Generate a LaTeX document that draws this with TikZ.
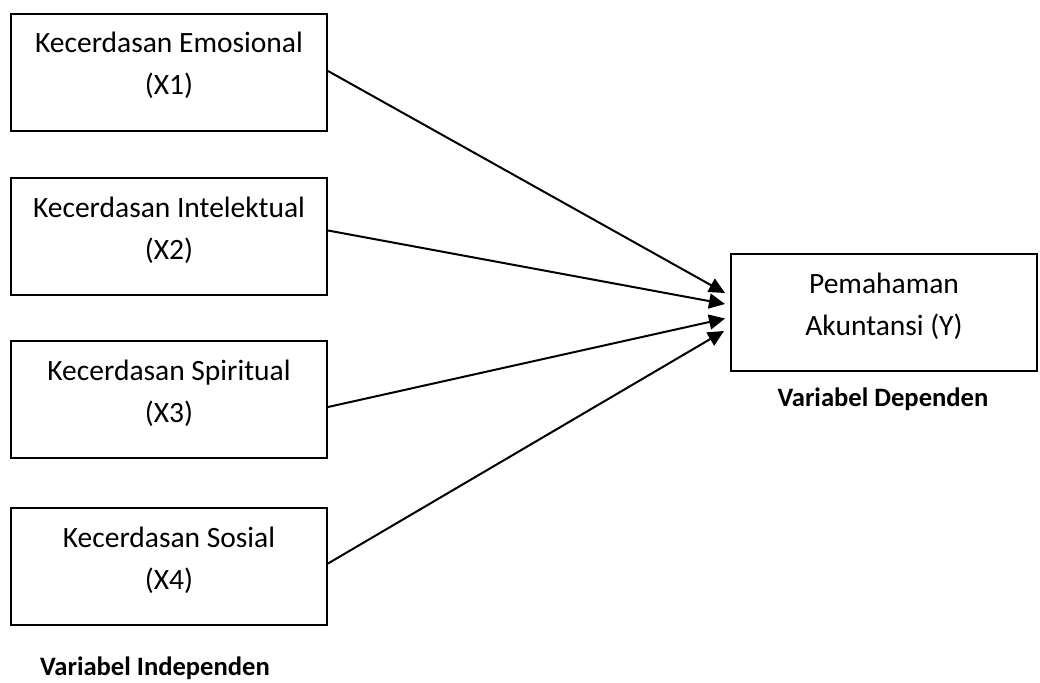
\documentclass[tikz,border=0pt]{standalone}
\usepackage{fontspec}
\setmainfont{Carlito}
\usepackage{tikz}
\usetikzlibrary{arrows.meta,positioning}
\tikzset{
  varbox/.style={
    draw, line width=2pt,
    minimum width=316pt,
    inner xsep=0pt, inner ysep=0pt,
    text height=39pt, text depth=78pt,
    font=\fontsize{29.5}{42}\selectfont,
    anchor=north
  },
  groupnote/.style={
    anchor=base,
    font=\fontsize{26.6}{30}\selectfont\bfseries
  },
  effect/.style={
    line width=2pt,
    -{Triangle[length=16pt,width=15pt]}
  }
}
\newcommand{\VarText}[2]{%
  % #1 = name of the variable, #2 = its symbol
  \begin{tabular}[t]{@{}c@{}}#1\\#2\end{tabular}%
}

\begin{document}
\begin{tikzpicture}[x=1pt, y=-1pt, line cap=butt, line join=miter]
  \useasboundingbox (0,0) rectangle (1040,682);

  \node[varbox] (x1) at (169,13) {\VarText{Kecerdasan Emosional}{(X1)}};
  \node[varbox] (x2) at (169,177) {\VarText{Kecerdasan Intelektual}{(X2)}};
  \node[varbox] (x3) at (169,340) {\VarText{Kecerdasan Spiritual}{(X3)}};
  \node[varbox] (x4) at (169,507) {\VarText{Kecerdasan Sosial}{(X4)}};
  \node[varbox, minimum width=306pt] (y) at (884,253) {\VarText{Pemahaman}{Akuntansi (Y)}};

  \node[groupnote] (indep) at (155,675) {Variabel Independen};
  \node[groupnote] (dep) at (883,406) {Variabel Dependen};

  % every X points at Y
  \draw[effect] ([yshift=1.5pt]x1.east) -- ([shift={(-5pt,19.5pt)}]y.west);
  \draw[effect] ([yshift=6pt]x2.east) -- ([shift={(-5pt,8.5pt)}]y.west);
  \draw[effect] ([yshift=-7.5pt]x3.east) -- ([shift={(-5pt,-6pt)}]y.west);
  \draw[effect] ([yshift=3pt]x4.east) -- ([shift={(-6pt,-18.5pt)}]y.west);
\end{tikzpicture}
\end{document}
